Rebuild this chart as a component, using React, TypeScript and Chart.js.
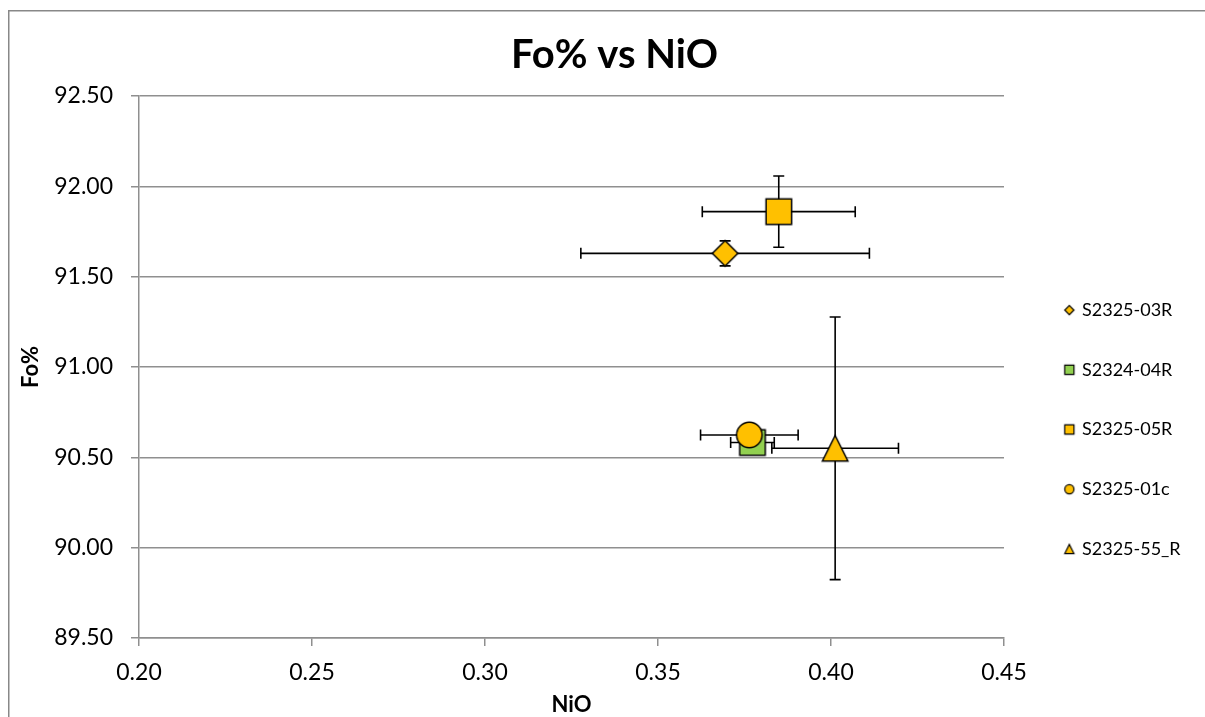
import React, { useEffect, useRef } from 'react';
import { Chart, registerables } from 'chart.js';

Chart.register(...registerables);

// ---- data ----
const seriesNames = ['S2325-03R', 'S2324-04R', 'S2325-05R', 'S2325-01c', 'S2325-55_R'];
const nioValues = [0.3694, 0.3773, 0.3849, 0.3764, 0.4012];
const foValues = [91.629, 90.582, 91.86, 90.624, 90.55];
const nioErrors = [0.0417, 0.0063, 0.0221, 0.0141, 0.0183];
const foErrors = [0.069, 0.03, 0.197, 0.03, 0.727];
const markerShapes = ['diamond', 'square', 'square', 'circle', 'triangle'];
const fillColors = ['#FFC000', '#92D050', '#FFC000', '#FFC000', '#FFC000'];
const xTickValues = [0.2, 0.25, 0.3, 0.35, 0.4, 0.45];
const yTickValues = [89.5, 90.0, 90.5, 91.0, 91.5, 92.0, 92.5];

// ---- layout constants ----
const CANVAS_W = 1229;
const CANVAS_H = 859;
const AREA_LEFT = 139;
const AREA_RIGHT = 1004;
const AREA_BOTTOM = 638;
const GRID = '#8f8f8f';
const FONT = 'Lato, "Open Sans", sans-serif';
const LEGEND_FONT_SIZE = 18;
const LEGEND_PAD = 41.7;
const LEGEND_BOX = 27.3;

function makeMarker(shape: string, fill: string, half: number, lw: number, shiftX = 0) {
  const pad = Math.ceil(lw) + 1;
  const c = document.createElement('canvas');
  c.width = Math.ceil(2 * (half + Math.abs(shiftX)) + 2 * pad);
  c.height = Math.ceil(2 * half + 2 * pad);
  const ctx = c.getContext('2d')!;
  const cx = c.width / 2 + shiftX;
  const cy = c.height / 2;
  ctx.beginPath();
  if (shape === 'diamond') {
    ctx.moveTo(cx, cy - half);
    ctx.lineTo(cx + half, cy);
    ctx.lineTo(cx, cy + half);
    ctx.lineTo(cx - half, cy);
    ctx.closePath();
  } else if (shape === 'square') {
    ctx.rect(cx - half, cy - half, 2 * half, 2 * half);
  } else if (shape === 'circle') {
    ctx.arc(cx, cy, half, 0, Math.PI * 2);
  } else {
    ctx.moveTo(cx, cy - half);
    ctx.lineTo(cx + half, cy + half);
    ctx.lineTo(cx - half, cy + half);
    ctx.closePath();
  }
  ctx.fillStyle = fill;
  ctx.fill();
  ctx.lineWidth = lw;
  ctx.strokeStyle = '#000';
  ctx.lineJoin = 'miter';
  ctx.stroke();
  return c;
}

const errorBarPlugin = {
  id: 'errorBars',
  beforeDatasetsDraw(chart: any) {
    const { ctx } = chart;
    const xs = chart.scales.x;
    const ys = chart.scales.y;
    const cap = 5.5;
    ctx.save();
    ctx.strokeStyle = '#000';
    ctx.lineWidth = 1.6;
    chart.data.datasets.forEach((ds: any) => {
      ds.data.forEach((p: any) => {
        const px = xs.getPixelForValue(p.x);
        const py = ys.getPixelForValue(p.y);
        const x0 = xs.getPixelForValue(p.x - p.xErr);
        const x1 = xs.getPixelForValue(p.x + p.xErr);
        const y0 = ys.getPixelForValue(p.y + p.yErr);
        const y1 = ys.getPixelForValue(p.y - p.yErr);
        ctx.beginPath();
        ctx.moveTo(x0, py); ctx.lineTo(x1, py);
        ctx.moveTo(x0, py - cap); ctx.lineTo(x0, py + cap);
        ctx.moveTo(x1, py - cap); ctx.lineTo(x1, py + cap);
        ctx.moveTo(px, y0); ctx.lineTo(px, y1);
        ctx.moveTo(px - cap, y0); ctx.lineTo(px + cap, y0);
        ctx.moveTo(px - cap, y1); ctx.lineTo(px + cap, y1);
        ctx.stroke();
      });
    });
    ctx.restore();
  },
};

const framePlugin = {
  id: 'frame',
  afterLayout(chart: any) {
    // the title is centred over the whole (wider than the window) chart object
    if (chart.titleBlock) {
      chart.titleBlock.left = 0;
      chart.titleBlock.right = chart.width;
      chart.titleBlock.width = chart.width;
    }
  },
  beforeDraw(chart: any) {
    const { ctx, width, height } = chart;
    ctx.save();
    ctx.fillStyle = '#fff';
    ctx.fillRect(0, 0, width, height);
    ctx.strokeStyle = '#888';
    ctx.lineWidth = 1.5;
    ctx.beginPath();
    ctx.moveTo(8.75, height);
    ctx.lineTo(8.75, 10.75);
    ctx.lineTo(width, 10.75);
    ctx.stroke();
    ctx.restore();
  },
};

export default function App() {
  const ref = useRef<HTMLCanvasElement | null>(null);

  useEffect(() => {
    const canvas = ref.current;
    if (!canvas) return;

    const measure = document.createElement('canvas').getContext('2d')!;
    measure.font = `${LEGEND_FONT_SIZE}px ${FONT}`;
    const maxText = Math.max(...seriesNames.map((n) => measure.measureText(n).width));
    const legendW = LEGEND_PAD + LEGEND_BOX + LEGEND_FONT_SIZE / 2 + maxText + 10;
    const padRight = Math.max(0, CANVAS_W - AREA_RIGHT - legendW);

    const mainMarkers = markerShapes.map((s, i) => makeMarker(s, fillColors[i], 12.75, 1.5));
    const legendMarkers = markerShapes.map((s, i) => makeMarker(s, fillColors[i], 4.6, 1.2, 10));

    const datasets = seriesNames.map((name, i) => ({
      label: name,
      data: [{ x: nioValues[i], y: foValues[i], xErr: nioErrors[i], yErr: foErrors[i] }],
      pointStyle: mainMarkers[i],
      pointRadius: 13,
      backgroundColor: fillColors[i],
      borderColor: '#000',
      order: -i,
    }));

    const tickFont = { family: FONT, size: 23 };
    const titleFont = { family: FONT, size: 22, weight: 'bold' as const };

    const chart = new Chart(canvas, {
      type: 'scatter',
      data: { datasets },
      plugins: [framePlugin, errorBarPlugin],
      options: {
        responsive: false,
        animation: false,
        layout: { padding: { top: 0, left: 0, bottom: 0, right: padRight } },
        plugins: {
          tooltip: { enabled: false },
          title: {
            display: true,
            text: 'Fo% vs NiO',
            color: '#000',
            font: { family: FONT, size: 40, weight: 'bold' },
            padding: { top: 31.4, bottom: 16.6 },
          },
          legend: {
            display: true,
            position: 'right',
            labels: {
              usePointStyle: true,
              pointStyleWidth: LEGEND_BOX,
              padding: LEGEND_PAD,
              color: '#000',
              font: { family: FONT, size: LEGEND_FONT_SIZE },
              sort: (a: any, b: any) => a.datasetIndex - b.datasetIndex,
              generateLabels: (ch: any) => {
                const items = (Chart.defaults.plugins.legend.labels as any).generateLabels(ch);
                return items.map((it: any, i: number) => ({ ...it, pointStyle: legendMarkers[it.datasetIndex ?? i] }));
              },
            },
          },
        },
        scales: {
          x: {
            type: 'linear',
            min: xTickValues[0],
            max: xTickValues[xTickValues.length - 1],
            afterBuildTicks: (s: any) => { s.ticks = xTickValues.map((v) => ({ value: v })); },
            afterFit: (s: any) => { s.height = CANVAS_H - AREA_BOTTOM; },
            grid: { display: true, drawOnChartArea: false, drawTicks: true, tickLength: 8, color: GRID, lineWidth: 1.5 },
            border: { display: true, color: GRID, width: 1.5 },
            ticks: {
              color: '#000',
              font: tickFont,
              padding: 13,
              maxRotation: 0,
              autoSkip: false,
              callback: (v: any) => Number(v).toFixed(2),
            },
            title: { display: true, text: 'NiO', color: '#000', font: titleFont, padding: { top: 0, bottom: 141 } },
          },
          y: {
            type: 'linear',
            min: yTickValues[0],
            max: yTickValues[yTickValues.length - 1],
            afterBuildTicks: (s: any) => { s.ticks = yTickValues.map((v) => ({ value: v })); },
            afterFit: (s: any) => { s.width = AREA_LEFT; },
            grid: { display: true, drawOnChartArea: true, drawTicks: true, tickLength: 8, color: GRID, lineWidth: 1.5 },
            border: { display: true, color: GRID, width: 1.5 },
            ticks: {
              color: '#000',
              font: tickFont,
              padding: 18,
              autoSkip: false,
              callback: (v: any) => Number(v).toFixed(2),
            },
            title: { display: true, text: 'Fo%', color: '#000', font: titleFont, padding: { top: 17.3, bottom: 0 } },
          },
        },
      } as any,
    });

    return () => chart.destroy();
  }, []);

  return (
    <div style={{ position: 'fixed', left: 0, top: 0, width: '100vw', height: '100vh', overflow: 'hidden', background: '#fff' }}>
      <canvas ref={ref} width={CANVAS_W} height={CANVAS_H} style={{ display: 'block' }} />
    </div>
  );
}
